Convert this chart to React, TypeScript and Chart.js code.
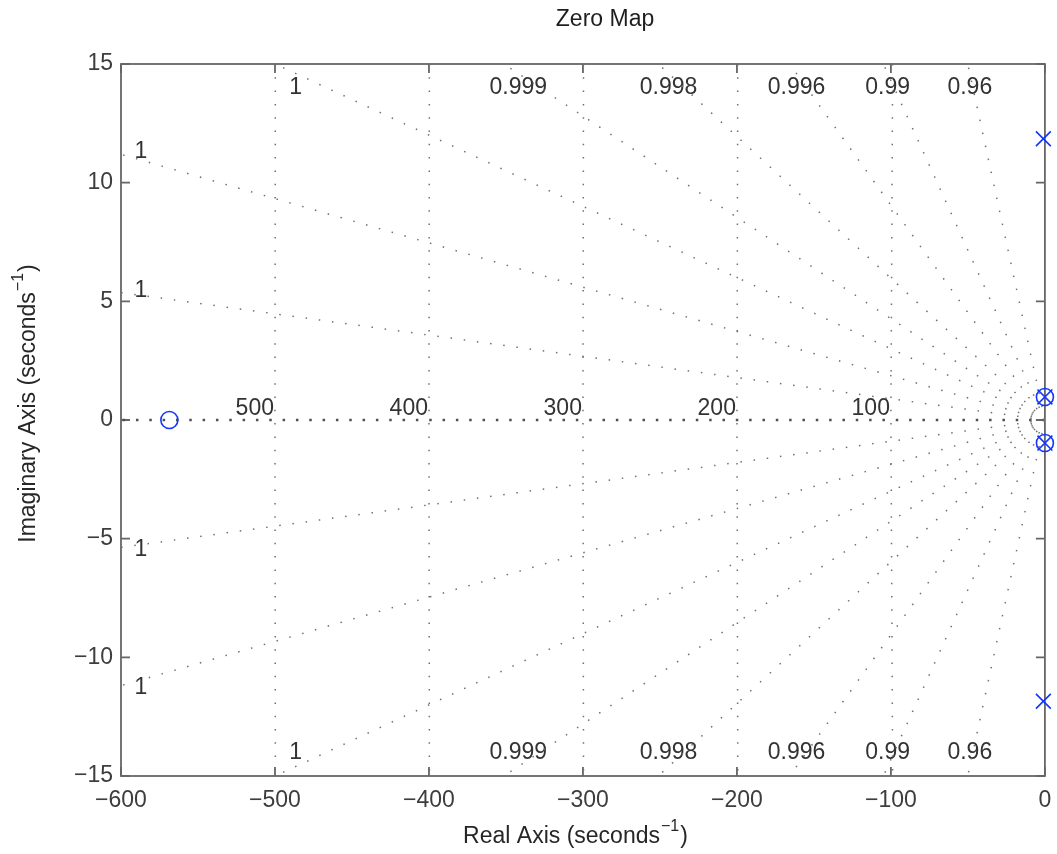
import { useEffect, useRef } from 'react';
import { Chart, registerables } from 'chart.js';

Chart.register(...registerables);

// ---- axis limits & ticks ----
const X_MIN = -600;
const X_MAX = 0;
const Y_MIN = -15;
const Y_MAX = 15;
const xTickValues = [-600, -500, -400, -300, -200, -100, 0];
const yTickValues = [-15, -10, -5, 0, 5, 10, 15];

// ---- zeros (o) and poles (x) ----
const zeroReal = [-568.6, 0, 0];
const zeroImag = [0, 0.97, -0.97];
const poleReal = [-1, -1, 0, 0];
const poleImag = [11.85, -11.85, 0.97, -0.97];

// ---- s-plane grid: damping rays and natural-frequency circles ----
const dampingRatios = [0.99996, 0.999826, 0.99955, 0.99909, 0.99822, 0.99593, 0.98993, 0.958];
const dampingLabels = ['1', '1', '1', '0.999', '0.998', '0.996', '0.99', '0.96'];
const naturalFrequencies = [100, 200, 300, 400, 500];
const frequencyLabels = ['100', '200', '300', '400', '500'];

// ---- text ----
const titleText = 'Zero Map';
const xTitleMain = 'Real Axis (seconds';
const yTitleMain = 'Imaginary Axis (seconds';
const titleSup = '\u22121';
const titleEnd = ')';

const FONT_FAMILY = '"Liberation Sans", Arial, Helvetica, sans-serif';
const FONT_SIZE = 23;
const SUP_SIZE = 16;
const TEXT_COLOR = '#333333';
const TICK_COLOR = '#3d3d3d';
const FRAME_COLOR = '#666666';
const GRID_COLOR = '#707070';
const MARK_COLOR = '#1236ff';

const fmt = (v: number) => (v < 0 ? '\u2212' + Math.abs(v) : String(v));

function rayEnd(zeta: number) {
  const t = Math.sqrt(1 - zeta * zeta) / zeta;
  if (-X_MIN * t > Y_MAX) {
    return { x: -Y_MAX / t, y: Y_MAX, top: true, t };
  }
  return { x: X_MIN, y: -X_MIN * t, top: false, t };
}

function drawSupTitle(ctx: CanvasRenderingContext2D, main: string, cx: number, baseline: number) {
  const mainFont = `${FONT_SIZE}px ${FONT_FAMILY}`;
  const supFont = `${SUP_SIZE}px ${FONT_FAMILY}`;
  ctx.font = mainFont;
  const wMain = ctx.measureText(main).width;
  const wEnd = ctx.measureText(titleEnd).width;
  ctx.font = supFont;
  const wSup = ctx.measureText(titleSup).width + 1;
  const total = wMain + wSup + wEnd;
  let x = cx - total / 2;
  ctx.textAlign = 'left';
  ctx.textBaseline = 'alphabetic';
  ctx.font = mainFont;
  ctx.fillText(main, x, baseline);
  x += wMain + 1;
  ctx.font = supFont;
  ctx.fillText(titleSup, x, baseline - 12);
  x += wSup;
  ctx.font = mainFont;
  ctx.fillText(titleEnd, x, baseline);
}

const sgridPlugin = {
  id: 'sgridDecor',
  beforeDatasetsDraw(chart: any) {
    const { ctx, chartArea, scales } = chart;
    const xs = scales.x;
    const ys = scales.y;
    const { left, right, top, bottom } = chartArea;
    ctx.save();
    // frame
    ctx.strokeStyle = FRAME_COLOR;
    ctx.lineWidth = 1.8;
    ctx.strokeRect(left, top, right - left, bottom - top);
    // inward tick marks on all sides
    const TL = 9;
    ctx.beginPath();
    xTickValues.forEach((v) => {
      const px = xs.getPixelForValue(v);
      ctx.moveTo(px, bottom);
      ctx.lineTo(px, bottom - TL);
      ctx.moveTo(px, top);
      ctx.lineTo(px, top + TL);
    });
    yTickValues.forEach((v) => {
      const py = ys.getPixelForValue(v);
      ctx.moveTo(left, py);
      ctx.lineTo(left + TL, py);
      ctx.moveTo(right, py);
      ctx.lineTo(right - TL, py);
    });
    ctx.stroke();

    // damping labels
    ctx.fillStyle = TEXT_COLOR;
    ctx.font = `${FONT_SIZE}px ${FONT_FAMILY}`;
    ctx.textAlign = 'center';
    ctx.textBaseline = 'middle';
    dampingRatios.forEach((z, i) => {
      const e = rayEnd(z);
      const label = dampingLabels[i];
      [1, -1].forEach((s) => {
        let lx: number;
        let ly: number;
        if (e.top) {
          lx = xs.getPixelForValue(-14.6 / e.t);
          ly = ys.getPixelForValue(s * 14.0);
        } else {
          lx = xs.getPixelForValue(-587);
          ly = ys.getPixelForValue(s * (e.y + 0.1));
        }
        ctx.fillText(label, lx, ly);
      });
    });

    // natural frequency labels
    ctx.textAlign = 'right';
    ctx.textBaseline = 'alphabetic';
    naturalFrequencies.forEach((w, i) => {
      const lx = xs.getPixelForValue(-w) - 1;
      const ly = ys.getPixelForValue(0) - 5;
      ctx.fillText(frequencyLabels[i], lx, ly);
    });
    ctx.restore();
  },
  afterDraw(chart: any) {
    const { ctx } = chart;
    ctx.save();
    ctx.fillStyle = '#1e1e1e';
    ctx.font = `${FONT_SIZE}px ${FONT_FAMILY}`;
    ctx.textAlign = 'center';
    ctx.textBaseline = 'alphabetic';
    ctx.fillText(titleText, 605, 26);
    ctx.fillStyle = '#262626';
    drawSupTitle(ctx, xTitleMain, 575, 843);
    ctx.translate(35, 404);
    ctx.rotate(-Math.PI / 2);
    drawSupTitle(ctx, yTitleMain, 0, 0);
    ctx.restore();
  },
};

function buildDatasets() {
  const ds: any[] = [];
  // markers on top
  ds.push({
    label: 'zeros',
    data: zeroReal.map((x, i) => ({ x, y: zeroImag[i] })),
    pointStyle: 'circle',
    pointRadius: 8.5,
    pointBorderWidth: 1.6,
    pointBorderColor: MARK_COLOR,
    pointBackgroundColor: 'rgba(0,0,0,0)',
    showLine: false,
    clip: false,
    order: 0,
  });
  ds.push({
    label: 'poles',
    data: poleReal.map((x, i) => ({ x, y: poleImag[i] })),
    pointStyle: 'crossRot',
    pointRadius: 10.5,
    pointBorderWidth: 1.6,
    pointBorderColor: MARK_COLOR,
    pointBackgroundColor: MARK_COLOR,
    showLine: false,
    clip: false,
    order: 0,
  });
  // damping rays
  dampingRatios.forEach((z) => {
    const e = rayEnd(z);
    [1, -1].forEach((s) => {
      ds.push({
        data: [
          { x: 0, y: 0 },
          { x: e.x, y: s * e.y },
        ],
        showLine: true,
        pointRadius: 0,
        borderColor: GRID_COLOR,
        borderWidth: 1.5,
        borderDash: [1.5, 11.8],
        order: 2,
      });
    });
  });
  // real axis (zeta = 1)
  ds.push({
    data: [
      { x: 0, y: 0 },
      { x: X_MIN, y: 0 },
    ],
    showLine: true,
    pointRadius: 0,
    borderColor: '#505050',
    borderWidth: 2.5,
    borderDash: [2.5, 10.83],
    order: 2,
  });
  // natural frequency circles
  naturalFrequencies.forEach((w) => {
    const xe = -Math.sqrt(w * w - Y_MAX * Y_MAX);
    ds.push({
      data: [
        { x: xe, y: Y_MAX },
        { x: -w, y: 0 },
        { x: xe, y: Y_MIN },
      ],
      showLine: true,
      pointRadius: 0,
      borderColor: GRID_COLOR,
      borderWidth: 1.5,
      borderDash: [1.5, 11.8],
      order: 2,
    });
  });
  return ds;
}

export default function App() {
  const canvasRef = useRef<HTMLCanvasElement | null>(null);

  useEffect(() => {
    const canvas = canvasRef.current;
    if (!canvas) return;
    const tickFont = { family: FONT_FAMILY, size: FONT_SIZE };
    const chart = new Chart(canvas, {
      type: 'scatter',
      data: { datasets: buildDatasets() },
      options: {
        responsive: false,
        devicePixelRatio: 1,
        animation: false,
        events: [],
        layout: { padding: { top: 64, right: 10, left: 0, bottom: 0 } },
        plugins: {
          legend: { display: false },
          tooltip: { enabled: false },
          title: { display: false },
        },
        scales: {
          x: {
            type: 'linear',
            min: X_MIN,
            max: X_MAX,
            afterBuildTicks: (scale: any) => {
              scale.ticks = xTickValues.map((v) => ({ value: v }));
            },
            afterFit: (scale: any) => {
              scale.height = 78;
              scale.paddingLeft = 0;
              scale.paddingRight = 0;
            },
            ticks: {
              callback: (v: any) => fmt(Number(v)),
              font: tickFont,
              color: TICK_COLOR,
              padding: 11,
              maxRotation: 0,
              autoSkip: false,
            },
            grid: { display: false, drawTicks: false },
            border: { display: false },
          },
          y: {
            type: 'linear',
            min: Y_MIN,
            max: Y_MAX,
            afterBuildTicks: (scale: any) => {
              scale.ticks = yTickValues.map((v) => ({ value: v }));
            },
            afterFit: (scale: any) => {
              scale.width = 121;
              scale.paddingTop = 0;
              scale.paddingBottom = 0;
            },
            ticks: {
              callback: (v: any) => fmt(Number(v)),
              font: tickFont,
              color: TICK_COLOR,
              padding: 8,
              autoSkip: false,
            },
            grid: { display: false, drawTicks: false },
            border: { display: false },
          },
        },
      } as any,
      plugins: [sgridPlugin],
    });
    return () => chart.destroy();
  }, []);

  return (
    <div style={{ position: 'absolute', left: 0, top: 0, width: 1057, height: 854, background: '#ffffff' }}>
      <canvas ref={canvasRef} width={1057} height={854} style={{ display: 'block' }} />
    </div>
  );
}
